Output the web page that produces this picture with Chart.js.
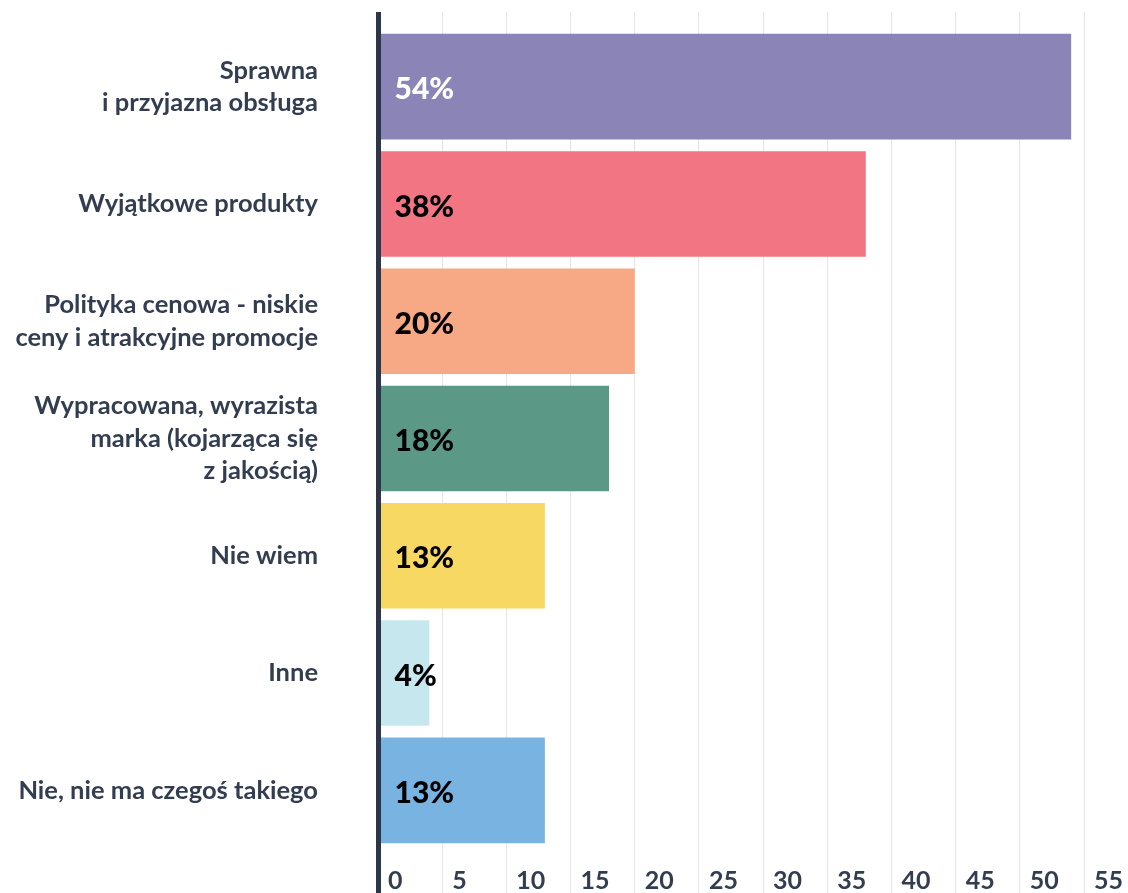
<!DOCTYPE html>
<html>
<head>
<meta charset="utf-8">
<script src="https://cdn.jsdelivr.net/npm/chart.js@4.4.1/dist/chart.umd.min.js"></script>
<style>
  html, body { margin: 0; padding: 0; background: #ffffff; }
  #wrap { width: 1128px; height: 893px; position: relative; }
</style>
</head>
<body>
<div id="wrap"><canvas id="c"></canvas></div>
<script>
const categories = [
  ['Sprawna', 'i przyjazna obsługa'],
  'Wyjątkowe produkty',
  ['Polityka cenowa - niskie', 'ceny i atrakcyjne promocje'],
  ['Wypracowana, wyrazista', 'marka (kojarząca się', 'z jakością)'],
  'Nie wiem',
  'Inne',
  'Nie, nie ma czegoś takiego'
];
const values = [54, 38, 20, 18, 13, 4, 13];
const axisMin = 0;
const axisMax = 55;
const axisStep = 5;

const barColors = ['#8b84b6', '#f17582', '#f7a885', '#5b9886', '#f7d862', '#c7e7ef', '#79b3e1'];
const valueLabelColors = ['#ffffff', '#000000', '#000000', '#000000', '#000000', '#000000', '#000000'];

const FONT = 'Lato, "Noto Sans", sans-serif';
const TEXT = '#333d50';
const AXIS = '#2c3648';
const GRID = '#e5e5e5';

const valueLabels = {
  id: 'valueLabels',
  afterDatasetsDraw(chart) {
    const ctx = chart.ctx;
    const meta = chart.getDatasetMeta(0);
    ctx.save();
    ctx.font = '900 30px ' + FONT;
    ctx.textAlign = 'left';
    ctx.textBaseline = 'middle';
    meta.data.forEach((el, i) => {
      ctx.fillStyle = valueLabelColors[i];
      ctx.fillText(values[i] + '%', el.base + 14, el.y + 3);
    });
    ctx.restore();
  }
};

new Chart(document.getElementById('c'), {
  type: 'bar',
  data: {
    labels: categories,
    datasets: [{
      data: values,
      backgroundColor: barColors,
      borderWidth: 0,
      categoryPercentage: 1,
      barPercentage: 0.9
    }]
  },
  options: {
    indexAxis: 'y',
    responsive: true,
    maintainAspectRatio: false,
    animation: false,
    layout: { padding: { top: 12, left: 8, right: 44, bottom: 0 } },
    plugins: { legend: { display: false }, tooltip: { enabled: false } },
    scales: {
      x: {
        position: 'bottom',
        min: axisMin, max: axisMax,
        afterFit(s) { s.height = 44; s.paddingLeft = 0; s.paddingRight = 0; },
        grid: {
          color: c => (c.tick && c.tick.value === 0) ? AXIS : GRID,
          lineWidth: c => (c.tick && c.tick.value === 0) ? 5 : 1,
          tickLength: 44
        },
        border: { display: false },
        ticks: {
          stepSize: axisStep,
          align: 'start',
          labelOffset: 10,
          padding: -27,
          color: TEXT,
          font: { family: FONT, size: 25, weight: '700' }
        }
      },
      x2: {
        position: 'top',
        min: axisMin, max: axisMax,
        afterFit(s) { s.height = 16; s.paddingLeft = 0; s.paddingRight = 0; },
        grid: {
          drawOnChartArea: false,
          color: c => (c.tick && c.tick.value === 0) ? AXIS : GRID,
          lineWidth: c => (c.tick && c.tick.value === 0) ? 5 : 1,
          tickLength: 16
        },
        border: { display: false },
        ticks: { display: false, stepSize: axisStep }
      },
      y: {
        afterFit(s) { s.width = 370; s.paddingTop = 0; s.paddingBottom = 0; },
        grid: { display: false },
        border: { display: true, color: AXIS, width: 5, z: 1 },
        ticks: {
          padding: 52,
          color: TEXT,
          font: { family: FONT, size: 25.5, weight: '700', lineHeight: 1.27 }
        }
      }
    }
  },
  plugins: [valueLabels]
});
</script>
</body>
</html>
